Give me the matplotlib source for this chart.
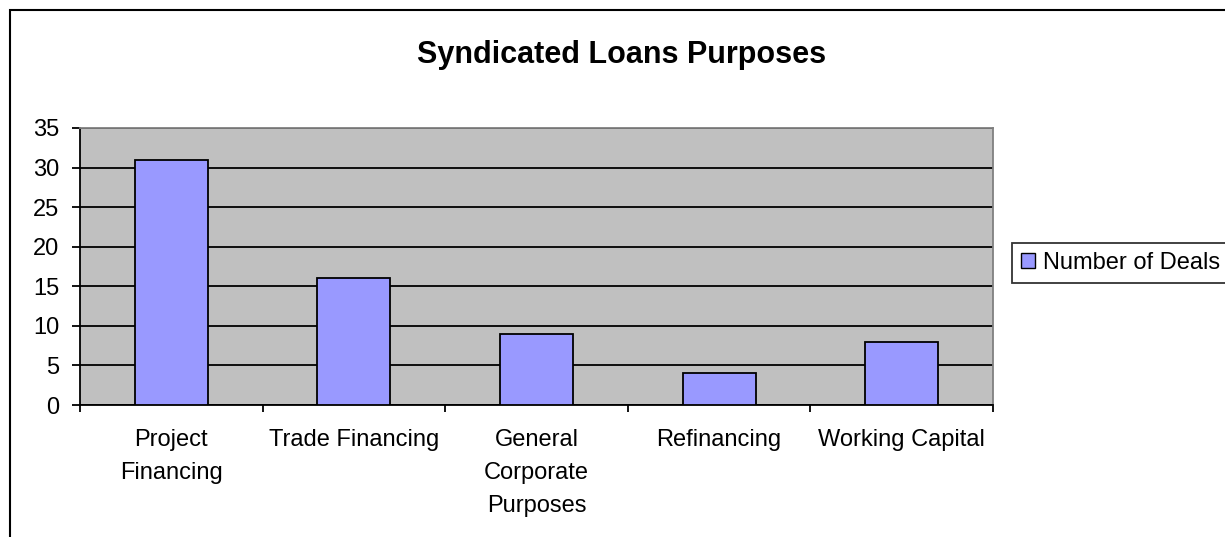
import matplotlib.pyplot as plt
from matplotlib.patches import Rectangle, Patch

# Данные
categories = ["Project\nFinancing", "Trade Financing", "General\nCorporate\nPurposes",
              "Refinancing", "Working Capital"]
deals = [31, 16, 9, 4, 8]
series_name = "Number of Deals"

plt.rcParams['font.family'] = ['Liberation Sans', 'DejaVu Sans']

W, H = 1225, 537
FS = 17  # размер шрифта подписей
fig = plt.figure(figsize=(W / 100, H / 100), dpi=100)

# Рамка всей диаграммы (выходит за правый и нижний край)
fig.patches.append(Rectangle((10 / W, -0.1), 1.2, 1 - 10 / H + 0.1,
                             transform=fig.transFigure, fill=False,
                             edgecolor='black', linewidth=1.5, clip_on=False))

# Область построения
left, right, top, bottom = 80, 993, 128, 405
ax = fig.add_axes([left / W, 1 - bottom / H, (right - left) / W, (bottom - top) / H])
ax.set_facecolor('#c0c0c0')

x = list(range(len(deals)))
ax.bar(x, deals, width=0.4, color='#9999ff', edgecolor='black', linewidth=1.3, zorder=3)

ax.set_xlim(-0.5, len(deals) - 0.5)
ax.set_ylim(0, 35)
ax.set_yticks(range(0, 36, 5))
ax.yaxis.grid(True, color='black', linewidth=1.3, zorder=1)
ax.set_axisbelow(True)

# Подписи категорий без делений, деления на границах
ax.set_xticks(x)
ax.set_xticklabels(categories, fontsize=FS, linespacing=1.65, va='top')
ax.tick_params(axis='x', length=0, pad=17)
ax.set_xticks([i - 0.5 for i in range(len(deals) + 1)], minor=True)
ax.tick_params(axis='x', which='minor', length=5, width=1.3, direction='out')
ax.tick_params(axis='y', length=5.8, width=1.3, direction='out', labelsize=FS, pad=9)

for side in ['top', 'right']:
    ax.spines[side].set_color('#808080')
    ax.spines[side].set_linewidth(1.3)
for side in ['left', 'bottom']:
    ax.spines[side].set_color('black')
    ax.spines[side].set_linewidth(1.3)

fig.text(622 / W, 1 - 55 / H, "Syndicated Loans Purposes", ha='center', va='center',
         fontsize=22, fontweight='bold')

# Легенда
handle = Patch(facecolor='#9999ff', edgecolor='black', linewidth=1.0, label=series_name)
leg = fig.legend(handles=[handle], loc='center left', bbox_to_anchor=(1012 / W, 1 - 263 / H),
                 frameon=True, fancybox=False, edgecolor='black', fontsize=FS,
                 handlelength=0.58, handleheight=0.58, handletextpad=0.35, borderpad=0.4,
                 borderaxespad=0)
leg.get_frame().set_linewidth(1.3)

fig.savefig("out.png", dpi=100)
